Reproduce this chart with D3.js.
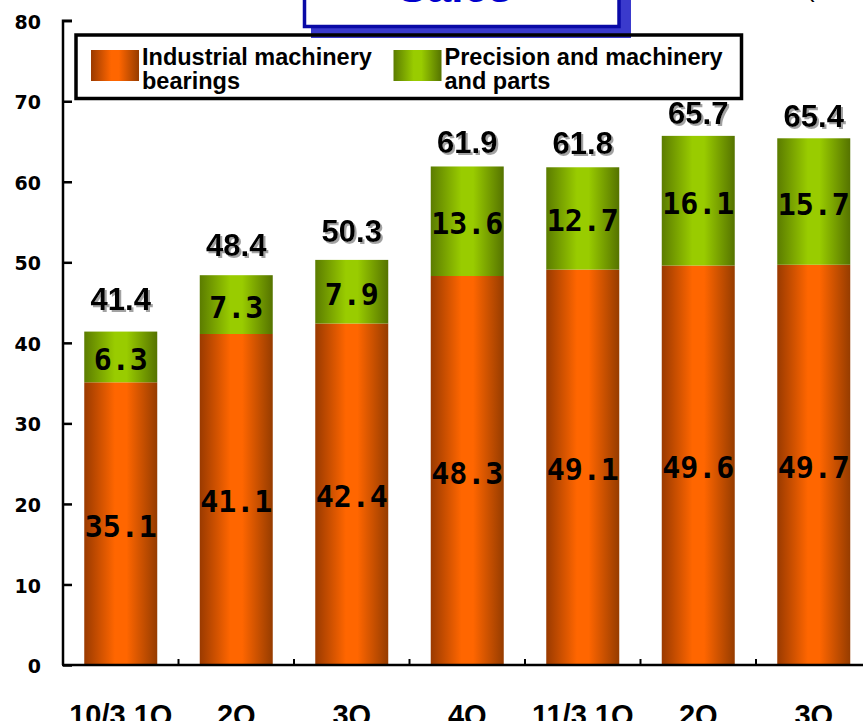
<!DOCTYPE html>
<html>
<head>
<meta charset="utf-8">
<script src="https://cdn.jsdelivr.net/npm/d3@7"></script>
<style>
  html, body { margin: 0; padding: 0; background: #fff; }
  svg { display: block; }
</style>
</head>
<body>
<svg id="chart" width="863" height="721"></svg>
<script>
// ---- data ----
const categories = ["10/3 1Q", "2Q", "3Q", "4Q", "11/3 1Q", "2Q", "3Q"];
const industrial = [35.1, 41.1, 42.4, 48.3, 49.1, 49.6, 49.7];
const precision  = [6.3, 7.3, 7.9, 13.6, 12.7, 16.1, 15.7];
const totals     = [41.4, 48.4, 50.3, 61.9, 61.8, 65.7, 65.4];
const yTicks     = [0, 10, 20, 30, 40, 50, 60, 70, 80];
const seriesKeys = ["industrial", "precision"];
const legendLines = [["Industrial machinery", "bearings"], ["Precision and machinery", "and parts"]];
const titleText = "Sales";
const unitText = "(";

// ---- setup ----
const svg = d3.select("#chart");
const W = 863, H = 721;
const plotLeft = 63, plotBottom = 665, plotTop = 20.7;
const step = 115.5;

const x = d3.scaleBand()
  .domain(d3.range(categories.length))
  .range([plotLeft, plotLeft + step * categories.length])
  .paddingInner(0.368)
  .paddingOuter(0.184);

const y = d3.scaleLinear().domain([0, 80]).range([plotBottom, plotTop]);
// hand-placed total labels in the original sit on a slightly compressed line
const yLabel = d3.scaleLinear().domain([0, 80]).range([615.8, 5.1]);

const defs = svg.append("defs");
function barGradient(id, edgeL, mid, edgeR) {
  const g = defs.append("linearGradient").attr("id", id)
    .attr("x1", "0%").attr("x2", "100%").attr("y1", "0%").attr("y2", "0%");
  g.append("stop").attr("offset", "0%").attr("stop-color", edgeL);
  g.append("stop").attr("offset", "42%").attr("stop-color", mid);
  g.append("stop").attr("offset", "58%").attr("stop-color", mid);
  g.append("stop").attr("offset", "100%").attr("stop-color", edgeR);
}
barGradient("gOrange", "#9a3a00", "#ff6600", "#963c00");
barGradient("gGreen", "#5b7c00", "#99cc00", "#557300");
const fill = { industrial: "url(#gOrange)", precision: "url(#gGreen)" };

const shadow = defs.append("filter").attr("id", "shadow")
  .attr("x", "-10%").attr("y", "-10%").attr("width", "130%").attr("height", "140%");
shadow.append("feDropShadow").attr("dx", 2).attr("dy", 2)
  .attr("stdDeviation", 0.7).attr("flood-color", "#8a8a8a").attr("flood-opacity", 0.8);

// ---- title box (cut off at top) ----
const tb = svg.append("g");
tb.append("rect").attr("x", 311).attr("y", -20).attr("width", 320).attr("height", 58)
  .attr("fill", "#3a3acc");
tb.append("rect").attr("x", 304.5).attr("y", -20).attr("width", 314.5).attr("height", 46.5)
  .attr("fill", "#ffffff").attr("stroke", "#0a0aa6").attr("stroke-width", 3.5);
tb.append("text").attr("x", 455).attr("y", 2).attr("text-anchor", "middle")
  .attr("font-family", "Liberation Sans, Arial, sans-serif").attr("font-weight", "bold")
  .attr("font-size", 44).attr("fill", "#0000cc").text(titleText);
svg.append("text").attr("x", 806).attr("y", -3)
  .attr("font-family", "Liberation Sans, Arial, sans-serif").attr("font-size", 26)
  .attr("fill", "#000").text(unitText);

// ---- bars ----
const rows = categories.map((c, i) => ({ i, industrial: industrial[i], precision: precision[i] }));
const stacked = d3.stack().keys(seriesKeys)(rows);

const layers = svg.append("g").selectAll("g").data(stacked).join("g")
  .attr("fill", d => fill[d.key]);
layers.selectAll("rect").data(d => d).join("rect")
  .attr("x", d => x(d.data.i))
  .attr("width", x.bandwidth())
  .attr("y", d => y(d[1]))
  .attr("height", d => y(d[0]) - y(d[1]));

// segment labels
const segFont = "DejaVu Sans Mono, Liberation Mono, monospace";
stacked.forEach(layer => {
  svg.append("g").selectAll("text").data(layer).join("text")
    .attr("x", d => x(d.data.i) + x.bandwidth() / 2)
    .attr("y", d => (y(d[0]) + y(d[1])) / 2 + 13)
    .attr("text-anchor", "middle")
    .attr("font-family", segFont).attr("font-weight", "bold").attr("font-size", 30)
    .attr("fill", "#000")
    .text(d => (d[1] - d[0]).toFixed(1));
});

// total labels
svg.append("g").selectAll("text").data(totals).join("text")
  .attr("x", (d, i) => x(i) + x.bandwidth() / 2)
  .attr("y", d => yLabel(d) + 10)
  .attr("text-anchor", "middle")
  .attr("font-family", "Liberation Sans, Arial, sans-serif").attr("font-weight", "bold")
  .attr("font-size", 31).attr("fill", "#000")
  .attr("filter", "url(#shadow)")
  .text(d => d.toFixed(1));

// ---- axes ----
const yAxis = svg.append("g").attr("transform", `translate(${plotLeft},0)`)
  .call(d3.axisLeft(y).tickValues(yTicks).tickSize(-9).tickPadding(22).tickFormat(d3.format("d")));
yAxis.select(".domain").attr("stroke", "#000").attr("stroke-width", 2.5)
  .attr("d", `M9,${plotTop}H0V${plotBottom}`);
yAxis.selectAll(".tick line").attr("stroke", "#000").attr("stroke-width", 2.5);
yAxis.selectAll(".tick text")
  .attr("font-family", "DejaVu Sans, sans-serif").attr("font-weight", "bold")
  .attr("font-size", 19).attr("fill", "#000").attr("dy", "0.40em");

// x axis line
svg.append("line").attr("x1", plotLeft - 1).attr("x2", W).attr("y1", plotBottom).attr("y2", plotBottom)
  .attr("stroke", "#000").attr("stroke-width", 2.5);
// boundary ticks (inward)
const bounds = d3.range(1, categories.length).map(i => x(i) - x.step() * x.paddingInner() / 2);
svg.append("g").selectAll("line").data(bounds).join("line")
  .attr("x1", d => d).attr("x2", d => d)
  .attr("y1", plotBottom).attr("y2", plotBottom - 6)
  .attr("stroke", "#000").attr("stroke-width", 2);

// category labels
const xAxis = svg.append("g").attr("transform", `translate(0,${plotBottom})`)
  .call(d3.axisBottom(x).tickSize(0).tickPadding(0).tickFormat(i => categories[i]));
xAxis.select(".domain").remove();
xAxis.selectAll(".tick text")
  .attr("font-family", "Liberation Sans, Arial, sans-serif").attr("font-weight", "bold")
  .attr("font-size", 29).attr("fill", "#000")
  .attr("dy", null).attr("y", 60);

// ---- legend ----
const lg = svg.append("g");
lg.append("rect").attr("x", 76).attr("y", 35).attr("width", 665.5).attr("height", 63.5)
  .attr("fill", "none").attr("stroke", "#000").attr("stroke-width", 3.5);
const legendX = [91, 393.5];
seriesKeys.forEach((k, j) => {
  lg.append("rect").attr("x", legendX[j]).attr("y", 50).attr("width", 48).attr("height", 31)
    .attr("fill", fill[k]);
  const t = lg.append("text").attr("x", legendX[j] + 51).attr("y", 65)
    .attr("font-family", "Liberation Sans, Arial, sans-serif").attr("font-weight", "bold")
    .attr("font-size", 23.5).attr("fill", "#000");
  legendLines[j].forEach((line, li) => {
    t.append("tspan").attr("x", legendX[j] + 51).attr("dy", li === 0 ? 0 : 24).text(line);
  });
});
</script>
</body>
</html>
